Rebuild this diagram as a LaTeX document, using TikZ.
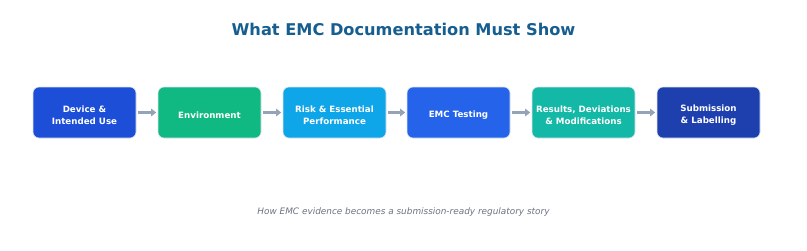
\documentclass[tikz,border=0pt]{standalone}
\usepackage{fontspec}
\setmainfont{DejaVu Sans}
\usetikzlibrary{arrows.meta}
\definecolor{cA}{HTML}{1D4ED8}
\definecolor{cB}{HTML}{10B981}
\definecolor{cC}{HTML}{0EA5E9}
\definecolor{cD}{HTML}{2563EB}
\definecolor{cE}{HTML}{14B8A6}
\definecolor{cF}{HTML}{1E40AF}
\definecolor{titlec}{HTML}{155E8F}
\definecolor{arrowc}{HTML}{94A3B8}
\definecolor{subc}{HTML}{6B7280}
\definecolor{edgec}{HTML}{DCE3EE}
\tikzset{
  stepbox/.style={draw=edgec, line width=0.6pt, rounded corners=6pt, minimum width=103pt, minimum height=51pt, inner sep=0pt},
  steptext/.style={text=white, font=\fontsize{8.7}{11.8}\selectfont\bfseries, align=center, inner sep=1pt},
  flow/.style={draw=arrowc, line width=2.6pt, -{Triangle[length=5pt,width=7.5pt]}, shorten >=1.5pt, shorten <=1.5pt}
}
\begin{document}
\begin{tikzpicture}[x=1pt,y=1pt]
\useasboundingbox (0,0) rectangle (807,-250);
\node[font=\fontsize{16.2}{18}\selectfont\bfseries, text=titlec] (title) at (403.5,-29) {What EMC Documentation Must Show};
\node[stepbox, fill=cA] (b1) at (84.5,-112.5) {};
\node[stepbox, fill=cB] (b2) at (209.5,-112.5) {};
\node[stepbox, fill=cC] (b3) at (334.5,-112.5) {};
\node[stepbox, fill=cD] (b4) at (458.5,-112.5) {};
\node[stepbox, fill=cE] (b5) at (583.5,-112.5) {};
\node[stepbox, fill=cF] (b6) at (708.5,-112.5) {};
\node[steptext] (t1) at ([yshift=-2.5pt]b1.center) {Device \&\\Intended Use};
\node[steptext] (t2) at ([yshift=-2.5pt]b2.center) {Environment};
\node[steptext] (t3) at ([yshift=-2.5pt]b3.center) {Risk \& Essential\\Performance};
\node[steptext] (t4) at ([yshift=-2.5pt]b4.center) {EMC Testing};
\node[steptext] (t5) at ([yshift=-2.5pt]b5.center) {Results, Deviations\\\& Modifications};
\node[steptext] (t6) at ([yshift=-2.5pt]b6.center) {Submission\\\& Labelling};
\draw[flow] (b1) -- (b2);
\draw[flow] (b2) -- (b3);
\draw[flow] (b3) -- (b4);
\draw[flow] (b4) -- (b5);
\draw[flow] (b5) -- (b6);
\node[font=\fontsize{8.9}{10}\selectfont\itshape, text=subc] (sub) at (403.5,-212) {How EMC evidence becomes a submission-ready regulatory story};
\end{tikzpicture}
\end{document}
